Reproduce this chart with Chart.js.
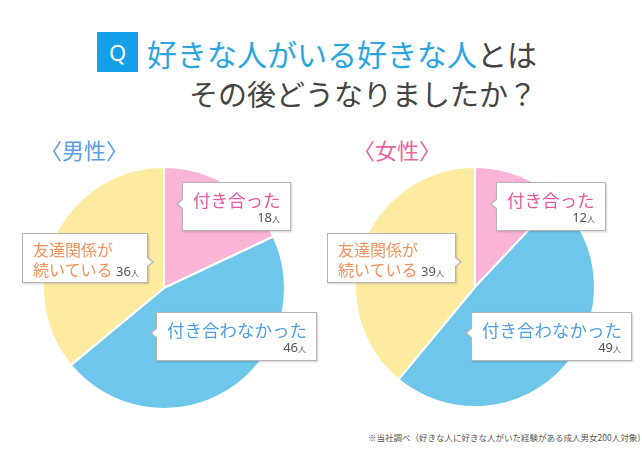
<!DOCTYPE html>
<html><head><meta charset="utf-8">
<script src="https://cdn.jsdelivr.net/npm/chart.js@4/dist/chart.umd.min.js"></script>
<style>
html,body{margin:0;padding:0;background:#fff;}
body{width:642px;height:450px;position:relative;overflow:hidden;font-family:"Noto Sans CJK JP","Noto Sans",sans-serif;}
.abs{position:absolute;white-space:nowrap;}
#qbox{left:97px;top:32px;width:41px;height:40px;background:#14a0e8;color:#fff;font-size:22px;line-height:40px;text-align:center;font-family:"Noto Sans",sans-serif;}
#t1{left:147px;top:35px;font-size:30px;line-height:36px;color:#444;}
#t1 .hl{color:#2aa5e0;}
#t2{right:105px;top:75px;font-size:29px;line-height:36px;color:#444;}
.sub{font-size:22px;line-height:26px;top:136px;}
.callout{position:absolute;background:#fff;border:1px solid #b4b4b4;box-shadow:1px 1px 2px rgba(0,0,0,0.18);box-sizing:border-box;}
.callout .name{position:absolute;white-space:nowrap;}
.callout .num{position:absolute;color:#555;font-size:13px;line-height:14px;font-family:"Noto Sans",sans-serif;white-space:nowrap;}
.callout .num small{font-size:8px;font-family:"Noto Sans CJK JP";}
.ptrL::before,.ptrL::after,.ptrR::before,.ptrR::after{content:"";position:absolute;width:0;height:0;border-style:solid;}
.ptrL::before{left:-7px;top:var(--py);border-width:6px 7px 6px 0;border-color:transparent #b4b4b4 transparent transparent;}
.ptrL::after{left:-5px;top:calc(var(--py) + 1px);border-width:5px 6px 5px 0;border-color:transparent #fff transparent transparent;}
.ptrR::before{right:-7px;top:var(--py);border-width:6px 0 6px 7px;border-color:transparent transparent transparent #b4b4b4;}
.ptrR::after{right:-5px;top:calc(var(--py) + 1px);border-width:5px 0 5px 6px;border-color:transparent transparent transparent #fff;}
#foot{left:368px;top:431px;font-size:8.5px;line-height:12px;color:#555;}
canvas{position:absolute;}
</style></head>
<body>
<div id="qbox" class="abs">Q</div>
<div id="t1" class="abs"><span class="hl">好きな人がいる好きな人</span>とは</div>
<div id="t2" class="abs">その後どうなりましたか？</div>
<div class="abs sub" style="left:40px;color:#5a9ee2;">〈男性〉</div>
<div class="abs sub" style="left:353px;color:#e8639f;">〈女性〉</div>

<canvas id="male" width="250" height="250" style="left:39px;top:163px;"></canvas>
<canvas id="female" width="250" height="250" style="left:350px;top:162px;"></canvas>

<div id="callouts"></div>
<div id="foot" class="abs">※当社調べ（好きな人に好きな人がいた経験がある成人男女200人対象）</div>

<script>
// ---- data ----
const categories = ['付き合った', '付き合わなかった', '友達関係が\n続いている'];
const maleValues = [18, 46, 36];
const femaleValues = [12, 49, 39];
const unit = '人';
const groupTitles = ['男性', '女性'];

// ---- styles ----
const sliceColors = ['#fab4d5', '#6ec6ea', '#fdeca0'];
const textColors = ['#e8579c', '#4f9fe0', '#f0925c'];

function makePie(id, values, radius) {
  new Chart(document.getElementById(id), {
    type: 'pie',
    data: {
      labels: categories,
      datasets: [{
        data: values,
        backgroundColor: sliceColors,
        borderColor: '#ffffff',
        borderWidth: 2
      }]
    },
    options: {
      responsive: false,
      animation: false,
      radius: radius,
      layout: { padding: 0 },
      plugins: { legend: { display: false }, tooltip: { enabled: false } }
    }
  });
}
makePie('male', maleValues, 121);
makePie('female', femaleValues, 120);

// callout boxes (label layout)
const boxLayouts = [
  // male
  [
    {l:182,t:182,w:109,h:49,ptr:'L',py:15},
    {l:156,t:312,w:161,h:49,ptr:'L',py:14},
    {l:22,t:233,w:126,h:50,ptr:'R',py:22}
  ],
  // female
  [
    {l:496,t:182,w:110,h:49,ptr:'L',py:15},
    {l:471,t:312,w:161,h:49,ptr:'L',py:14},
    {l:327,t:233,w:129,h:50,ptr:'R',py:22}
  ]
];
const host = document.getElementById('callouts');
[maleValues, femaleValues].forEach((vals, g) => {
  categories.forEach((cat, i) => {
    const b = boxLayouts[g][i];
    const d = document.createElement('div');
    d.className = 'callout ptr' + b.ptr;
    d.style.cssText = `left:${b.l}px;top:${b.t}px;width:${b.w}px;height:${b.h}px;--py:${b.py}px;`;
    const lines = cat.split('\n');
    if (lines.length === 1) {
      const n = document.createElement('div');
      n.className = 'name';
      n.style.cssText = `left:10px;top:6px;font-size:17.5px;line-height:22px;color:${textColors[i]};`;
      n.textContent = cat;
      d.appendChild(n);
      const v = document.createElement('div');
      v.className = 'num';
      v.style.cssText = 'right:10px;top:27px;';
      v.innerHTML = vals[i] + '<small>' + unit + '</small>';
      d.appendChild(v);
    } else {
      const n = document.createElement('div');
      n.className = 'name';
      n.style.cssText = `left:10px;top:5px;font-size:16px;line-height:20px;color:${textColors[i]};`;
      n.innerHTML = lines[0] + '<br>' + lines[1] +
        ' <span style="color:#555;font-size:13px;font-family:Noto Sans,sans-serif;">' + vals[i] +
        '<small style="font-size:8px;font-family:Noto Sans CJK JP;">' + unit + '</small></span>';
      d.appendChild(n);
    }
    host.appendChild(d);
  });
});
</script>
</body></html>
